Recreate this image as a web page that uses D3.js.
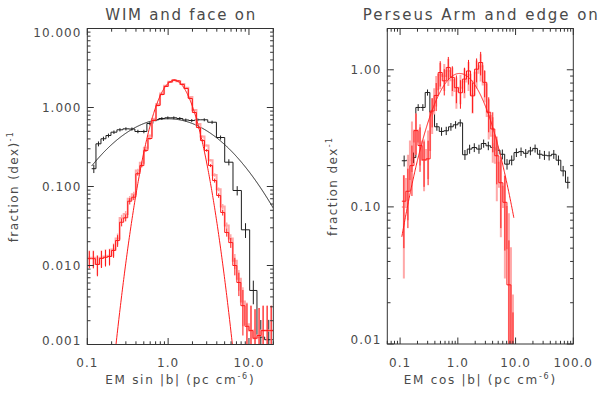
<!DOCTYPE html>
<html><head><meta charset="utf-8">
<script src="https://cdn.jsdelivr.net/npm/d3@7"></script>
<style>
body{margin:0;background:#fff}
svg{display:block}
text{font-family:"DejaVu Sans",sans-serif;fill:#4a4a4a}
</style>
</head><body>
<svg id="c" width="600" height="400"></svg>
<script>
// ---------------- Left panel: WIM and face on ----------------
const wimBlackEdges = [0.1133,0.1280,0.1476,0.1702,0.1962,0.2326,0.2759,0.3271,0.3880,0.4602,0.5458,0.6473,0.7677,0.9106,1.080,1.280,1.519,1.801,2.136,2.533,3.091,3.958,5.012,6.345,8.058,10.20,12.56,15.63,19.78];
const wimBlackFrac  = [0.168,0.347,0.402,0.442,0.487,0.522,0.537,0.534,0.497,0.497,0.627,0.699,0.726,0.741,0.741,0.726,0.695,0.684,0.699,0.699,0.651,0.417,0.203,0.089,0.0283,0.00483,0.00124,0.00115];
const wimBlackErr   = [0.02,0.025,0.025,0.025,0.025,0.025,0.025,0.025,0.025,0.025,0.03,0.03,0.03,0.03,0.03,0.03,0.03,0.03,0.03,0.03,0.03,0.025,0.018,0.012,0.006,0.0016,0.0008,0.0009];

const wimRedBinDex = 0.05;
const wimRedLogEM = [-0.975,-0.925,-0.875,-0.825,-0.775,-0.725,-0.675,-0.625,-0.575,-0.525,-0.475,-0.425,-0.375,-0.325,-0.275,-0.225,-0.175,-0.125,-0.075,-0.025,0.025,0.075,0.125,0.175,0.225,0.275,0.325,0.375,0.425,0.475,0.525,0.575,0.625,0.675,0.725,0.775,0.825,0.875,0.925,0.975,1.025,1.075,1.125,1.175,1.225,1.275];
const wimRedFrac  = [0.0122,0.0122,0.0103,0.0123,0.0127,0.0130,0.0155,0.0207,0.0353,0.0402,0.0652,0.0732,0.145,0.184,0.286,0.405,0.685,1.06,1.46,1.85,2.10,2.23,2.17,1.96,1.74,1.30,0.864,0.558,0.382,0.286,0.184,0.119,0.0769,0.0469,0.0262,0.0195,0.0100,0.0061,0.0031,0.0017,0.0015,0.0012,0.0013,0.0015,0.0015,0.0015];
const wimPinkFrac = [0.0125,0.0125,0.0105,0.0125,0.0130,0.0133,0.0160,0.0220,0.0400,0.0450,0.0700,0.0800,0.160,0.200,0.310,0.440,0.720,1.10,1.50,1.88,2.12,2.22,2.15,1.98,1.78,1.36,0.93,0.62,0.43,0.33,0.215,0.140,0.092,0.056,0.032,0.022,0.0115,0.0068,0.0035,0.0018,0.0015,0.0012,0.0013,0.0015,0.0015,0.0015];
const wimRedErr   = [0.003,0.003,0.003,0.003,0.003,0.003,0.003,0.0035,0.004,0.004,0.006,0.006,0.008,0.009,0.012,0.014,0.018,0.025,0.03,0.03,0.03,0.03,0.03,0.03,0.03,0.025,0.02,0.015,0.012,0.01,0.008,0.007,0.005,0.004,0.003,0.0028,0.0025,0.002,0.0018,0.0016,0.0016,0.0016,0.0016,0.0016,0.0016,0.0016];

// log-normal fits: [peak fraction, log10 centre, sigma in dex], drawn over [logFrom, logTo]
const wimFitBlack = [0.72, 0.0, 0.57];
const wimFitBlackRange = [-0.946, 1.30];
const wimFitRed = [2.2, 0.075, 0.1835];
const wimFitRedRange = [-1.0, 1.30];

// ---------------- Right panel: Perseus Arm and edge on ----------------
const perBlackBinDex = 0.081;
const perBlackLogEM = [-0.930,-0.849,-0.768,-0.687,-0.606,-0.525,-0.444,-0.363,-0.282,-0.201,-0.120,-0.039,0.042,0.123,0.204,0.285,0.366,0.447,0.528,0.609,0.690,0.771,0.852,0.933,1.014,1.095,1.176,1.257,1.338,1.419,1.500,1.581,1.662,1.743,1.824,1.905];
const perBlackFrac  = [0.217,0.219,0.229,0.531,0.531,0.683,0.488,0.384,0.355,0.359,0.384,0.397,0.410,0.240,0.264,0.271,0.264,0.290,0.279,0.271,0.259,0.242,0.205,0.219,0.249,0.253,0.246,0.256,0.267,0.242,0.238,0.236,0.242,0.219,0.183,0.151];
const perBlackErr   = [0.02,0.02,0.02,0.03,0.03,0.035,0.03,0.025,0.025,0.025,0.025,0.025,0.025,0.02,0.02,0.02,0.02,0.02,0.02,0.02,0.02,0.02,0.018,0.018,0.018,0.018,0.018,0.018,0.018,0.018,0.018,0.018,0.018,0.018,0.016,0.015];

const perRedBinDex = 0.07;
const perRedLogEM = [-0.935,-0.865,-0.795,-0.725,-0.655,-0.585,-0.515,-0.445,-0.375,-0.305,-0.235,-0.165,-0.095,-0.025,0.045,0.115,0.185,0.255,0.325,0.395,0.465,0.535,0.605,0.675,0.745,0.815,0.885,0.955];
const perRedFrac  = [0.11,0.13,0.20,0.36,0.28,0.22,0.224,0.50,0.65,0.955,0.83,1.04,0.88,0.74,0.68,0.855,0.98,0.645,1.01,1.13,0.81,0.49,0.37,0.236,0.15,0.108,0.027,0.005];
const perRedErr   = [0.06,0.06,0.08,0.12,0.1,0.08,0.08,0.12,0.15,0.2,0.18,0.2,0.18,0.17,0.16,0.18,0.2,0.16,0.2,0.22,0.18,0.14,0.12,0.09,0.08,0.06,0.03,0.012];
const perPinkFrac = [0.10,0.16,0.30,0.36,0.30,0.22,0.26,0.48,0.72,0.92,0.90,0.98,0.84,0.70,0.74,0.82,0.92,0.66,0.95,1.06,0.78,0.46,0.33,0.21,0.14,0.10,0.05,0.008];
const perPinkErr  = [0.07,0.08,0.12,0.12,0.1,0.09,0.1,0.14,0.18,0.2,0.2,0.22,0.2,0.18,0.18,0.2,0.22,0.18,0.22,0.24,0.2,0.15,0.12,0.1,0.08,0.07,0.04,0.015];

const perFitRed = [0.94, 0.03, 0.427];
const perFitRedRange = [-0.97, 0.97];

// ---------------- drawing ----------------
const svg = d3.select("#c");
const BLACK = "#1e1e1e", RED = "#ff1a1a", PINK = "#ffa8a8";

function binsFromEdges(edges){ return edges.slice(0,-1).map((e,i)=>[e, edges[i+1]]); }
function binsFromLog(centres, w){ return centres.map(c=>[Math.pow(10,c-w/2), Math.pow(10,c+w/2)]); }

function makePanel(o){
  const g = svg.append("g");
  const x = d3.scaleLog().domain(o.xDom).range([o.L, o.R]);
  const y = d3.scaleLog().domain(o.yDom).range([o.B, o.T]);
  const clipId = o.id + "-clip";
  g.append("clipPath").attr("id", clipId).append("rect")
    .attr("x", o.L).attr("y", o.T).attr("width", o.R - o.L).attr("height", o.B - o.T);
  const plot = g.append("g").attr("clip-path", `url(#${clipId})`);
  const yFloor = o.yDom[0] / 20;
  const yv = v => y(Math.max(v, yFloor));

  function hist(bins, vals, color, w){
    const pts = bins.flatMap((b,i)=>[[b[0], vals[i]], [b[1], vals[i]]]);
    plot.append("path").attr("d", d3.line().x(d=>x(d[0])).y(d=>yv(d[1]))(pts))
      .attr("fill","none").attr("stroke", color).attr("stroke-width", w).attr("stroke-linejoin","miter");
  }
  function errs(bins, vals, e, color, w){
    plot.selectAll(null).data(bins).enter().append("line")
      .attr("x1", b=>x(Math.sqrt(b[0]*b[1]))).attr("x2", b=>x(Math.sqrt(b[0]*b[1])))
      .attr("y1", (b,i)=>yv(vals[i]-e[i])).attr("y2", (b,i)=>yv(vals[i]+e[i]))
      .attr("stroke", color).attr("stroke-width", w);
  }
  function fit(p, range, color, w){
    const lx = d3.range(range[0], range[1] + 1e-9, 0.005);
    const pts = lx.map(l=>[Math.pow(10,l), p[0]*Math.exp(-Math.pow(l-p[1],2)/(2*p[2]*p[2]))]);
    plot.append("path").attr("d", d3.line().x(d=>x(d[0])).y(d=>yv(d[1]))(pts))
      .attr("fill","none").attr("stroke", color).attr("stroke-width", w);
  }

  // axes frame and ticks
  const ax = g.append("g").attr("stroke", "#333").attr("stroke-width", 1);
  ax.append("rect").attr("x", o.L).attr("y", o.T).attr("width", o.R-o.L).attr("height", o.B-o.T).attr("fill","none");
  function logTicks(dom){
    const lo = Math.floor(Math.log10(dom[0]) - 1e-9), hi = Math.ceil(Math.log10(dom[1]) + 1e-9);
    const maj = [], min = [];
    for (let d = lo; d <= hi; d++){
      for (let m = 1; m <= 9; m++){
        const v = m * Math.pow(10, d);
        if (v < dom[0]*(1-1e-9) || v > dom[1]*(1+1e-9)) continue;
        (m === 1 ? maj : min).push(v);
      }
    }
    return {maj, min};
  }
  const xt = logTicks(o.xDom), yt = logTicks(o.yDom);
  const MJ = 6.5, MN = 3.2;
  xt.maj.forEach(v=>{ const X=x(v);
    ax.append("line").attr("x1",X).attr("x2",X).attr("y1",o.B).attr("y2",o.B-MJ);
    ax.append("line").attr("x1",X).attr("x2",X).attr("y1",o.T).attr("y2",o.T+MJ); });
  xt.min.forEach(v=>{ const X=x(v);
    ax.append("line").attr("x1",X).attr("x2",X).attr("y1",o.B).attr("y2",o.B-MN);
    ax.append("line").attr("x1",X).attr("x2",X).attr("y1",o.T).attr("y2",o.T+MN); });
  yt.maj.forEach(v=>{ const Y=y(v);
    ax.append("line").attr("x1",o.L).attr("x2",o.L+MJ).attr("y1",Y).attr("y2",Y);
    ax.append("line").attr("x1",o.R).attr("x2",o.R-MJ).attr("y1",Y).attr("y2",Y); });
  yt.min.forEach(v=>{ const Y=y(v);
    ax.append("line").attr("x1",o.L).attr("x2",o.L+MN).attr("y1",Y).attr("y2",Y);
    ax.append("line").attr("x1",o.R).attr("x2",o.R-MN).attr("y1",Y).attr("y2",Y); });

  // tick labels
  const fx = d3.format(".1f"), fy = d3.format(o.yFmt);
  xt.maj.forEach(v=>{
    g.append("text").attr("x", x(v)).attr("y", 366.5).attr("text-anchor","middle")
      .attr("font-size", 12).attr("letter-spacing", "1px").text(fx(v));
  });
  yt.maj.forEach(v=>{
    const Y = Math.max(o.T + 4.3, Math.min(o.B - 4.3, y(v)));
    g.append("text").attr("x", o.L - 6).attr("y", Y + 4.3).attr("text-anchor","end")
      .attr("font-size", 12).attr("letter-spacing", "1px").text(fy(v));
  });

  // titles
  g.append("text").attr("x", (o.L+o.R)/2).attr("y", 19.5).attr("text-anchor","middle")
    .attr("font-size", 15).attr("textLength", o.titleLen).attr("lengthAdjust","spacing").text(o.title);
  const xl = g.append("text").attr("x", (o.L+o.R)/2).attr("y", 384).attr("text-anchor","middle")
    .attr("font-size", 12).attr("letter-spacing", "1.7px");
  xl.append("tspan").text(o.xLab[0]);
  xl.append("tspan").attr("dy", -5).attr("font-size", 8).text(o.xLab[1]);
  xl.append("tspan").attr("dy", 5).text(o.xLab[2]);
  const yl = g.append("text").attr("transform", `translate(${o.yLabX},${(o.T+o.B)/2}) rotate(-90)`)
    .attr("text-anchor","middle").attr("font-size", 12).attr("letter-spacing", "1.4px");
  yl.append("tspan").text(o.yLab[0]);
  yl.append("tspan").attr("dy", -5).attr("font-size", 8).text(o.yLab[1]);

  return {hist, errs, fit};
}

// Left panel
const P1 = makePanel({id:"wim", xDom:[0.1, 20], yDom:[0.001, 10], L:87.3, R:273.3, T:28.5, B:344.5,
  yFmt:".3f", title:"WIM and face on", titleLen:150, xLab:["EM sin |b| (pc cm","-6",")"],
  yLab:["fraction (dex)","-1"], yLabX:18});
const wimBB = binsFromEdges(wimBlackEdges);
const wimRB = binsFromLog(wimRedLogEM, wimRedBinDex);
P1.hist(wimBB, wimBlackFrac, BLACK, 1);
P1.errs(wimBB, wimBlackFrac, wimBlackErr, BLACK, 1);
P1.fit(wimFitBlack, wimFitBlackRange, BLACK, 1);
P1.hist(wimRB, wimPinkFrac, PINK, 2);
P1.errs(wimRB, wimPinkFrac, wimRedErr, PINK, 1.5);
P1.hist(wimRB, wimRedFrac, RED, 1);
P1.errs(wimRB, wimRedFrac, wimRedErr, RED, 1);
P1.fit(wimFitRed, wimFitRedRange, RED, 1);

// Right panel
const P2 = makePanel({id:"per", xDom:[0.06, 100], yDom:[0.01, 2], L:387.3, R:573.3, T:28.5, B:344,
  yFmt:".2f", title:"Perseus Arm and edge on", titleLen:235, xLab:["EM cos |b| (pc cm","-6",")"],
  yLab:["fraction dex","-1"], yLabX:337});
const perBB = binsFromLog(perBlackLogEM, perBlackBinDex);
const perRB = binsFromLog(perRedLogEM, perRedBinDex);
P2.hist(perBB, perBlackFrac, BLACK, 1);
P2.errs(perBB, perBlackFrac, perBlackErr, BLACK, 1);
P2.hist(perRB, perPinkFrac, PINK, 2);
P2.errs(perRB, perPinkFrac, perPinkErr, PINK, 2);
P2.hist(perRB, perRedFrac, RED, 1);
P2.errs(perRB, perRedFrac, perRedErr, RED, 1);
P2.fit(perFitRed, perFitRedRange, RED, 1);
</script>
</body></html>
